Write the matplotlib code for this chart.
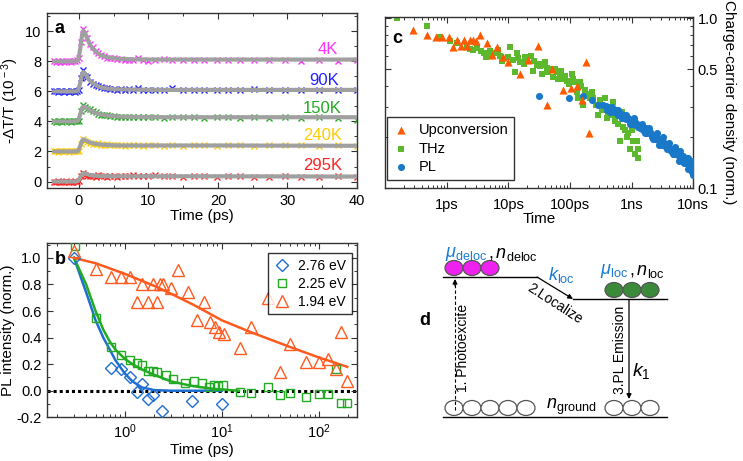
import numpy as np
import matplotlib
matplotlib.use("Agg")
import matplotlib.pyplot as plt
from matplotlib.patches import Ellipse
from matplotlib.ticker import MultipleLocator, LogLocator, NullFormatter, FixedLocator, FixedFormatter

plt.rcParams['font.family'] = ['Liberation Sans', 'DejaVu Sans']
plt.rcParams['mathtext.fontset'] = 'custom'
plt.rcParams['mathtext.rm'] = 'Liberation Sans'
plt.rcParams['mathtext.it'] = 'Liberation Sans:italic'
plt.rcParams['mathtext.bf'] = 'Liberation Sans:bold'
plt.rcParams['axes.unicode_minus'] = False

# ---------------- Panel a data ----------------
tA = [-3.6, -3.3, -3.0, -2.7, -2.4, -2.1, -1.8, -1.5, -1.2, -0.9,
      -0.6, -0.3, 0.0, 0.3, 0.6, 0.9, 1.2, 1.6, 2.0, 2.4,
      2.8, 3.2, 3.6, 4.0, 4.5, 5.0, 5.5, 6.0, 6.6, 7.2,
      7.8, 8.5, 9.2, 10.0, 11.0, 12.2, 13.4, 15.0, 16.5, 18.0,
      19.8, 21.5, 23.2, 25.2, 27.3, 29.6, 32.0, 34.6, 37.2, 40.0]
y4K = [8.0, 7.95, 8.0, 7.98, 8.02, 7.97, 8.0, 8.03, 7.98, 8.0,
       8.05, 8.1, 8.25, 9.3, 10.15, 9.9, 9.55, 9.15, 8.95, 8.7,
       8.55, 8.45, 8.35, 8.25, 8.22, 8.2, 8.15, 8.18, 8.1, 8.12,
       8.08, 8.2, 8.1, 8.05, 8.12, 8.15, 8.12, 8.1, 8.08, 8.1,
       8.08, 8.1, 8.12, 8.1, 8.1, 8.12, 8.05, 8.12, 8.05, 8.1]
y90K = [6.0, 6.02, 5.97, 6.0, 6.03, 5.98, 6.0, 5.96, 6.02, 6.0,
        5.98, 6.05, 6.1, 6.9, 7.45, 7.05, 6.95, 6.6, 6.5, 6.45,
        6.35, 6.3, 6.25, 6.2, 6.15, 6.18, 6.12, 6.15, 6.1, 6.15,
        6.12, 6.2, 6.1, 6.12, 6.1, 6.1, 6.22, 6.12, 6.1, 6.1,
        6.08, 6.12, 6.1, 6.15, 6.1, 6.12, 6.08, 6.12, 6.1, 6.1]
y150K = [4.0, 3.98, 4.02, 4.0, 3.97, 4.0, 4.03, 4.0, 3.98, 4.02,
         4.0, 4.0, 4.05, 4.7, 5.1, 4.95, 4.85, 4.8, 4.7, 4.6,
         4.5, 4.45, 4.4, 4.4, 4.35, 4.38, 4.3, 4.32, 4.3, 4.3,
         4.28, 4.3, 4.32, 4.28, 4.3, 4.25, 4.3, 4.28, 4.3, 4.25,
         4.32, 4.28, 4.22, 4.28, 4.25, 4.3, 4.22, 4.28, 4.25, 4.1]
y240K = [2.0, 2.0, 1.98, 2.02, 2.0, 2.0, 2.0, 1.98, 2.02, 2.0,
         2.0, 2.0, 2.05, 2.5, 2.85, 2.7, 2.6, 2.55, 2.5, 2.5,
         2.55, 2.45, 2.45, 2.48, 2.42, 2.4, 2.45, 2.4, 2.38, 2.42,
         2.4, 2.4, 2.38, 2.42, 2.4, 2.38, 2.42, 2.38, 2.4, 2.42,
         2.38, 2.4, 2.45, 2.38, 2.4, 2.4, 2.42, 2.38, 2.4, 2.35]
y295K = [0.0, -0.02, 0.02, 0.0, -0.03, 0.0, 0.02, -0.02, 0.0, 0.0,
         0.02, 0.0, 0.05, 0.35, 0.6, 0.45, 0.4, 0.35, 0.38, 0.3,
         0.42, 0.35, 0.38, 0.32, 0.4, 0.35, 0.32, 0.4, 0.35, 0.38,
         0.42, 0.35, 0.4, 0.35, 0.45, 0.38, 0.35, 0.32, 0.38, 0.35,
         0.3, 0.35, 0.4, 0.32, 0.28, 0.35, 0.3, 0.32, 0.35, 0.3]
tAfit = [-3.6, -0.4, -0.1, 0.2, 0.45, 0.65, 0.9, 1.2, 1.6, 2.0,
         2.5, 3.0, 3.5, 4.0, 5.0, 6.0, 8.0, 12.0, 20.0, 40.0]
fit4K = [8.0, 8.0, 8.1, 8.9, 9.8, 10.05, 9.85, 9.5, 9.1, 8.85,
         8.6, 8.45, 8.35, 8.28, 8.2, 8.16, 8.13, 8.12, 8.12, 8.12]
fit90K = [6.0, 6.0, 6.08, 6.6, 7.15, 7.3, 7.15, 6.95, 6.7, 6.55,
          6.4, 6.3, 6.24, 6.2, 6.15, 6.13, 6.12, 6.1, 6.1, 6.1]
fit150K = [4.0, 4.0, 4.07, 4.5, 4.9, 5.0, 4.95, 4.87, 4.75, 4.65,
           4.55, 4.48, 4.43, 4.4, 4.35, 4.32, 4.3, 4.28, 4.28, 4.28]
fit240K = [2.0, 2.0, 2.05, 2.4, 2.72, 2.8, 2.75, 2.68, 2.6, 2.55,
           2.5, 2.47, 2.45, 2.43, 2.41, 2.4, 2.4, 2.4, 2.4, 2.38]
fit295K = [0.0, 0.0, 0.05, 0.3, 0.5, 0.55, 0.52, 0.48, 0.43, 0.4,
           0.38, 0.37, 0.36, 0.36, 0.35, 0.35, 0.35, 0.35, 0.35, 0.33]
tempLabels = ['4K', '90K', '150K', '240K', '295K']
tempColors = ['#ff33ff', '#2222ff', '#22aa22', '#ffcc00', '#ff2222']

# ---------------- Panel b data ----------------
tBlue = [0.3, 0.72, 0.92, 1.13, 1.32, 1.52, 1.74, 1.93, 2.43, 4.9, 10.0]
yBlue = [1.0, 0.17, 0.16, 0.10, -0.01, 0.05, -0.06, -0.03, -0.15, -0.08, -0.10]
tGreen = [0.31, 0.51, 0.72, 0.92, 1.13, 1.32, 1.52, 1.74, 1.93, 2.16,
          2.63, 3.1, 4.17, 5.2, 6.2, 7.3, 8.2, 9.2, 10.2, 15.2,
          19.9, 29.8, 40, 50, 74, 100, 125, 150, 167, 195]
yGreen = [1.09, 0.55, 0.33, 0.27, 0.23, 0.21, 0.19, 0.15, 0.15, 0.14,
          0.12, 0.09, 0.06, 0.07, 0.055, 0.03, 0.04, 0.035, 0.04, -0.01,
          -0.015, 0.025, -0.03, -0.02, -0.05, -0.025, -0.025, 0.16, -0.095, -0.095]
tOrange = [0.3, 0.51, 0.72, 0.92, 1.13, 1.32, 1.52, 1.74, 1.93, 2.16,
           2.3, 2.5, 3.0, 3.56, 4.5, 5.5, 6.6, 7.5, 8.4, 9.4,
           10.6, 15.2, 20, 29.8, 40, 50, 74, 100, 125, 150, 170, 195]
yOrange = [1.05, 0.92, 0.86, 0.86, 0.86, 0.67, 0.80, 0.67, 0.80, 0.67,
           0.80, 0.80, 0.77, 0.91, 0.74, 0.53, 0.67, 0.52, 0.48, 0.44,
           0.43, 0.32, 0.48, 0.70, 0.14, 0.35, 0.22, 0.22, 0.24, 0.16, 0.44, 0.07]
tBlueFit = [0.3, 0.35, 0.4, 0.45, 0.5, 0.6, 0.7, 0.8, 1.0, 1.2, 1.5, 2.0, 3.0, 5.0, 10.0]
yBlueFit = [1.0, 0.86, 0.74, 0.63, 0.53, 0.40, 0.31, 0.23, 0.13, 0.07, 0.025, 0.005, 0.0, 0.0, 0.0]
tGreenFit = [0.3, 0.4, 0.5, 0.6, 0.7, 0.8, 1.0, 1.2, 1.5, 2.0, 3.0, 5.0, 8.0, 12.0, 15.0]
yGreenFit = [1.0, 0.8, 0.6, 0.46, 0.37, 0.31, 0.24, 0.2, 0.16, 0.12, 0.07, 0.035, 0.015, 0.005, 0.0]
tOrangeFit = [0.3, 0.5, 1, 2, 3, 5, 10, 20, 50, 100, 195]
yOrangeFit = [1.0, 0.96, 0.88, 0.79, 0.73, 0.65, 0.53, 0.44, 0.33, 0.25, 0.18]
energyLabels = ['2.76 eV', '2.25 eV', '1.94 eV']

# ---------------- Panel c data (time in ps) ----------------
tUp = [0.28, 0.48, 0.68, 0.85, 1.09, 1.27, 1.49, 1.69, 1.89, 2.14,
       2.37, 2.68, 3.03, 3.44, 4.52, 5.53, 6.57, 8.2, 9.9, 15.4,
       21, 30.5, 41.7, 51.5, 76, 102, 128, 154, 180, 203]
yUp = [0.85, 0.80, 0.78, 0.78, 0.78, 0.68, 0.74, 0.69, 0.74, 0.69,
       0.74, 0.74, 0.73, 0.80, 0.71, 0.61, 0.68, 0.59, 0.55, 0.47,
       0.57, 0.69, 0.31, 0.50, 0.38, 0.39, 0.40, 0.33, 0.55, 0.21]
tTHz = [0.155, 0.48, 0.79, 1.15, 1.49, 2.14, 2.68, 3.15, 3.66, 4.42,
        5.0, 6.0, 6.8, 8.0, 9.9, 10.8, 11.7, 12.7, 13.9, 15.4,
        17.9, 19.7, 22.9, 24.7, 28.7, 31.7, 34.6, 36.9, 41.7, 47.3,
        53.5, 60.6, 68.6, 77.7, 88, 106, 120, 136, 150, 165,
        175, 199, 210, 240, 288, 308, 370, 400, 450, 505,
        540, 610, 650, 690, 785, 830, 945, 1060, 1140, 1290,
        1290, 7.2, 14.5, 18.5, 26, 33, 39, 44, 57, 64,
        72, 82, 95, 112, 128, 145, 180, 225, 260, 330,
        420, 480, 580, 720, 880, 1000, 1200, 2.4, 4.0, 5.5]
yTHz = [1.0, 0.90, 0.78, 0.73, 0.71, 0.68, 0.65, 0.67, 0.64, 0.59,
        0.64, 0.62, 0.65, 0.56, 0.59, 0.68, 0.57, 0.48, 0.62, 0.55,
        0.54, 0.56, 0.60, 0.49, 0.53, 0.54, 0.47, 0.53, 0.51, 0.50,
        0.45, 0.48, 0.46, 0.44, 0.43, 0.47, 0.42, 0.34, 0.40, 0.31,
        0.38, 0.36, 0.34, 0.34, 0.27, 0.33, 0.34, 0.26, 0.30, 0.32,
        0.25, 0.24, 0.19, 0.28, 0.22, 0.20, 0.17, 0.19, 0.16, 0.17,
        0.15, 0.60, 0.58, 0.59, 0.56, 0.52, 0.55, 0.48, 0.50, 0.44,
        0.49, 0.46, 0.41, 0.44, 0.37, 0.42, 0.35, 0.37, 0.31, 0.29,
        0.28, 0.27, 0.27, 0.23, 0.21, 0.22, 0.19, 0.66, 0.62, 0.60]
tPL = [32, 98, 160, 230, 290, 340, 380, 420, 460, 500,
       540, 580, 630, 680, 730, 790, 850, 910, 980, 1050,
       1130, 1210, 1300, 1400, 1500, 1600, 1720, 1850, 2000, 2150,
       2300, 2480, 2670, 2870, 3100, 3330, 3580, 3850, 4150, 4470,
       4800, 5170, 5560, 5980, 6440, 6930, 7460, 8030, 8640, 9300,
       9700, 10000, 450, 600, 700, 820, 950, 1100, 1250, 1450,
       1650, 1900, 2200, 2550, 2800, 3200, 3700, 4000, 4600, 5000,
       5800, 6200, 7000, 7800, 8300, 9000, 9500, 9900, 9800,
       400, 480, 520, 560, 610, 660, 710, 760, 820, 880,
       940, 1010, 1080, 1170, 1260, 1350, 1450, 1550, 1680, 1800,
       1950, 2100, 2250, 2400, 2600, 2750, 2950, 3150, 3400, 3650,
       3950, 4300, 4650, 5000, 5400, 5800, 6200, 6700, 7200, 7700,
       8200, 8800, 9400, 10000]
yPL = [0.35, 0.34, 0.35, 0.33, 0.31, 0.31, 0.305, 0.30, 0.295, 0.29,
       0.285, 0.28, 0.28, 0.27, 0.27, 0.265, 0.26, 0.255, 0.25, 0.25,
       0.245, 0.24, 0.235, 0.23, 0.225, 0.225, 0.22, 0.215, 0.21, 0.205,
       0.20, 0.20, 0.195, 0.19, 0.19, 0.185, 0.18, 0.175, 0.17, 0.17,
       0.165, 0.16, 0.16, 0.155, 0.15, 0.15, 0.145, 0.14, 0.14, 0.135,
       0.13, 0.135, 0.28, 0.29, 0.26, 0.27, 0.24, 0.26, 0.23, 0.24,
       0.21, 0.225, 0.195, 0.21, 0.18, 0.20, 0.17, 0.185, 0.16, 0.175,
       0.145, 0.165, 0.14, 0.15, 0.13, 0.145, 0.125, 0.145, 0.12,
       0.29, 0.30, 0.28, 0.29, 0.27, 0.275, 0.26, 0.265, 0.255, 0.26,
       0.25, 0.24, 0.24, 0.235, 0.235, 0.225, 0.23, 0.22, 0.225, 0.21,
       0.215, 0.20, 0.205, 0.195, 0.20, 0.19, 0.185, 0.18, 0.185, 0.175,
       0.18, 0.165, 0.17, 0.16, 0.165, 0.155, 0.15, 0.155, 0.145, 0.14,
       0.15, 0.135, 0.14, 0.14]
cTickVals = [1, 10, 100, 1000, 10000]
cTickLabels = ['1ps', '10ps', '100ps', '1ns', '10ns']

SPINE = '#333333'
FS_TICK = 10.5
FS_LAB = 11


def style_axes(ax):
    for s in ax.spines.values():
        s.set_color(SPINE)
        s.set_linewidth(1.0)
    ax.tick_params(which='both', direction='in', top=True, right=True,
                   color=SPINE, labelsize=FS_TICK, pad=4)
    ax.tick_params(which='major', length=4, width=0.8)
    ax.tick_params(which='minor', length=2.5, width=0.7)


fig = plt.figure(figsize=(7.43, 4.61), dpi=100)
W, H = 743.0, 461.0


def box(l, r, t, b):
    return [l / W, 1 - b / H, (r - l) / W, (b - t) / H]


# ---------------- Panel a ----------------
axA = fig.add_axes(box(47, 357, 13.3, 188.3))
seriesA = [y4K, y90K, y150K, y240K, y295K]
fitsA = [fit4K, fit90K, fit150K, fit240K, fit295K]
for ys, fs, c in zip(seriesA, fitsA, tempColors):
    axA.plot(tA, ys, ls='none', marker='x', ms=4.5, mew=1.0, color=c, zorder=2)
    axA.plot(tAfit, fs, color='#a0a0a0', lw=3.0, zorder=3, solid_capstyle='round')
labelPos = [(35.8, 8.8), (35.3, 6.75), (35.0, 4.85), (35.0, 3.05), (35.1, 1.05)]
for (lx, ly), lab, c in zip(labelPos, tempLabels, tempColors):
    axA.text(lx, ly, lab, color=c, fontsize=12, ha='center', va='center')
axA.set_xlim(-4.6, 40)
axA.set_ylim(-0.45, 11.2)
axA.xaxis.set_major_locator(MultipleLocator(10))
axA.xaxis.set_minor_locator(MultipleLocator(5))
axA.yaxis.set_major_locator(MultipleLocator(2))
axA.yaxis.set_minor_locator(MultipleLocator(1))
style_axes(axA)
axA.set_xlabel('Time (ps)', fontsize=FS_LAB, labelpad=1)
axA.set_ylabel(r'-ΔT/T (10$^{\rm -3}$)', fontsize=FS_LAB, labelpad=3)
axA.text(0.025, 0.96, 'a', transform=axA.transAxes, fontsize=13, fontweight='bold',
         ha='left', va='top')

# ---------------- Panel b ----------------
axB = fig.add_axes(box(47, 357, 243.3, 417.3))
cB = '#1f6fd0'
cG = '#22aa22'
cO = '#ff5a1f'
axB.axhline(0, color='black', lw=2.2, ls=(0, (1, 1)), zorder=1)
axB.plot(tBlueFit, yBlueFit, color=cB, lw=1.8, zorder=2)
axB.plot(tGreenFit, yGreenFit, color=cG, lw=1.8, zorder=2)
axB.plot(tOrangeFit, yOrangeFit, color=cO, lw=1.8, zorder=2)
hB, = axB.plot(tBlue, yBlue, ls='none', marker='D', ms=6, mfc='none', mec=cB, mew=1.0, zorder=3)
hG, = axB.plot(tGreen, yGreen, ls='none', marker='s', ms=6, mfc='none', mec=cG, mew=1.0, zorder=3)
hO, = axB.plot(tOrange, yOrange, ls='none', marker='^', ms=8, mfc='none', mec=cO, mew=1.0, zorder=3)
axB.set_xscale('log')
axB.set_xlim(0.158, 246)
axB.set_ylim(-0.2, 1.11)
axB.yaxis.set_major_locator(MultipleLocator(0.2))
axB.yaxis.set_minor_locator(MultipleLocator(0.1))
axB.xaxis.set_major_locator(LogLocator(base=10, numticks=10))
axB.xaxis.set_minor_locator(LogLocator(base=10, subs=np.arange(2, 10), numticks=20))
axB.xaxis.set_minor_formatter(NullFormatter())
style_axes(axB)
axB.set_xlabel('Time (ps)', fontsize=FS_LAB, labelpad=1)
axB.set_ylabel('PL intensity (norm.)', fontsize=FS_LAB, labelpad=1)
legB = axB.legend([hB, hG, hO], energyLabels, loc='upper right', bbox_to_anchor=(0.984, 0.944),
                  borderaxespad=0, fontsize=10, frameon=True, fancybox=False,
                  handletextpad=0.6, handlelength=1.2, borderpad=0.4, labelspacing=0.3)
legB.get_frame().set_edgecolor('black')
legB.get_frame().set_linewidth(1.0)
axB.text(0.025, 0.955, 'b', transform=axB.transAxes, fontsize=13, fontweight='bold',
         ha='left', va='top')

# ---------------- Panel c ----------------
axC = fig.add_axes(box(385, 693.3, 16.7, 188.3))
cUp = '#ff5a00'
cTHz = '#5cb82c'
cPL = '#1a78c8'
hUp = axC.scatter(tUp, yUp, marker='^', s=34, color=cUp, linewidths=0, zorder=4)
hTHz = axC.scatter(tTHz, yTHz, marker='s', s=24, color=cTHz, linewidths=0, zorder=2)
hPL = axC.scatter(tPL, yPL, marker='o', s=26, color=cPL, linewidths=0, zorder=3)
axC.set_xscale('log')
axC.set_yscale('log')
axC.set_xlim(0.1, 10000)
axC.set_ylim(0.1, 1.02)
axC.xaxis.set_major_locator(FixedLocator(cTickVals))
axC.xaxis.set_major_formatter(FixedFormatter(cTickLabels))
axC.xaxis.set_minor_locator(LogLocator(base=10, subs=np.arange(2, 10), numticks=20))
axC.xaxis.set_minor_formatter(NullFormatter())
axC.yaxis.set_major_locator(FixedLocator([0.1, 0.5, 1.0]))
axC.yaxis.set_major_formatter(FixedFormatter(['0.1', '0.5', '1.0']))
axC.yaxis.set_minor_locator(FixedLocator([0.2, 0.3, 0.4, 0.6, 0.7, 0.8, 0.9]))
axC.yaxis.set_minor_formatter(NullFormatter())
style_axes(axC)
axC.tick_params(axis='y', which='both', labelleft=False, labelright=True, pad=3)
axC.tick_params(axis='x', which='both', pad=7)
axC.yaxis.set_label_position('right')
axC.set_ylabel('Charge-carrier density (norm.)', fontsize=FS_LAB, rotation=270, labelpad=13)
axC.set_xlabel('Time', fontsize=FS_LAB, labelpad=0)
legC = axC.legend([hUp, hTHz, hPL], ['Upconversion', 'THz', 'PL'], loc='lower left',
                  bbox_to_anchor=(0.005, 0.05), borderaxespad=0, fontsize=10.5,
                  frameon=True, fancybox=False, handletextpad=0.6, handlelength=1.2,
                  borderpad=0.4, labelspacing=0.3, scatterpoints=1)
legC.get_frame().set_edgecolor('black')
legC.get_frame().set_linewidth(1.0)
axC.text(0.025, 0.925, 'c', transform=axC.transAxes, fontsize=13, fontweight='bold',
         ha='left', va='top')

# ---------------- Panel d (schematic, pixel coordinates) ----------------
axD = fig.add_axes([0, 0, 1, 1], zorder=5)
axD.set_xlim(0, W)
axD.set_ylim(H, 0)
axD.axis('off')
axD.patch.set_alpha(0)

lk = dict(color='black', lw=1.0)
axD.plot([443, 537], [277, 277], **lk)
axD.plot([573, 667], [299, 299], **lk)
axD.plot([443, 667], [417, 417], **lk)
axD.annotate('', xy=(573, 299), xytext=(537, 277),
             arrowprops=dict(arrowstyle='-|>', color='black', lw=0.9, mutation_scale=7,
                             shrinkA=0, shrinkB=0))
axD.plot([455, 455], [410, 284], color='black', lw=0.8, ls=(0, (3, 2)))
axD.annotate('', xy=(455, 279), xytext=(455, 286),
             arrowprops=dict(arrowstyle='-|>', color='black', lw=0.8, mutation_scale=7,
                             shrinkA=0, shrinkB=0))
axD.annotate('', xy=(629, 399), xytext=(629, 300),
             arrowprops=dict(arrowstyle='-|>', color='black', lw=0.9, mutation_scale=7,
                             shrinkA=0, shrinkB=0))
for cx in [454, 472, 490]:
    axD.add_patch(Ellipse((cx, 268), 18, 15, facecolor='#ee22ee', edgecolor='#555555', lw=0.9))
for cx in [614, 632, 650]:
    axD.add_patch(Ellipse((cx, 290), 18, 15, facecolor='#3a8a3a', edgecolor='#555555', lw=0.9))
for cx in [454, 472, 490, 508, 526]:
    axD.add_patch(Ellipse((cx, 408), 18, 15, facecolor='white', edgecolor='#555555', lw=0.9))
for cx in [614, 632, 650]:
    axD.add_patch(Ellipse((cx, 408), 18, 15, facecolor='white', edgecolor='#555555', lw=0.9))
blueT = '#1a7ad0'
axD.text(466, 254, r'$\mu_{\rm deloc}$', color=blueT, fontsize=13, ha='center', va='center')
axD.text(513, 254, r'$,n_{\rm deloc}$', color='black', fontsize=13, ha='center', va='center')
axD.text(561, 275, r'$k_{\rm loc}$', color=blueT, fontsize=13, ha='center', va='center')
axD.text(614, 271, r'$\mu_{\rm loc}$', color=blueT, fontsize=13, ha='center', va='center')
axD.text(647, 271, r'$,n_{\rm loc}$', color='black', fontsize=13, ha='center', va='center')
axD.text(555, 304, '2.Localize', fontsize=10, rotation=-33, ha='center', va='center',
         rotation_mode='anchor')
axD.text(463, 348, '1. Photoexcite', fontsize=10, rotation=90, ha='center', va='center')
axD.text(620, 350, '3.PL Emission', fontsize=10, rotation=90, ha='center', va='center')
axD.text(641, 371, r'$k_1$', fontsize=14, ha='center', va='center')
axD.text(571, 407, r'$n_{\rm ground}$', fontsize=13, ha='center', va='center')
axD.text(425, 320, 'd', fontsize=13, fontweight='bold', ha='center', va='center')

fig.savefig('out.png', dpi=100)
